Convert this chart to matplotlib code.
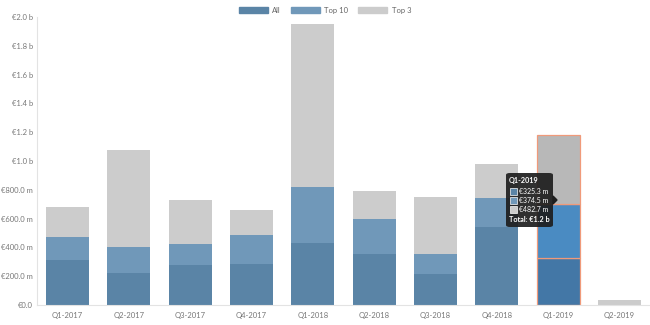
import matplotlib
matplotlib.use("Agg")
import matplotlib.pyplot as plt
from matplotlib.patches import FancyBboxPatch, Rectangle
from matplotlib.ticker import FuncFormatter
import numpy as np

plt.rcParams['font.family'] = ['Lato', 'DejaVu Sans']

quarters = ["Q1-2017", "Q2-2017", "Q3-2017", "Q4-2017", "Q1-2018",
            "Q2-2018", "Q3-2018", "Q4-2018", "Q1-2019", "Q2-2019"]
# values in millions of euro
all_vals = [315, 222, 278, 285, 430, 354, 215, 542, 325.3, 0]
top10_vals = [160, 181, 146, 201, 389, 243, 139, 201, 374.5, 0]
top3_vals = [205, 673, 305, 174, 1132, 195, 396, 236, 482.7, 35]
highlight = 8

c_all, c_top10, c_top3 = "#5a84a6", "#7098b9", "#cccccc"
h_all, h_top10, h_top3 = "#4377a6", "#4a8bc2", "#b8b8b8"
h_edge = "#f09a7a"


def fmt(v, pos=None):
    if v == 0:
        return "€0.0"
    if v >= 1000:
        return "€%.1f b" % (v / 1000)
    return "€%.1f m" % v


fig = plt.figure(figsize=(6.5, 3.25), dpi=100)
ax = fig.add_axes([37 / 650, 20 / 325, 1 - 37 / 650, 288 / 325])

x = np.arange(len(quarters))
a = np.array(all_vals)
t10 = np.array(top10_vals)
t3 = np.array(top3_vals)
w = 0.7

cols_all = [h_all if i == highlight else c_all for i in x]
cols_t10 = [h_top10 if i == highlight else c_top10 for i in x]
cols_t3 = [h_top3 if i == highlight else c_top3 for i in x]
edges = [h_edge if i == highlight else "none" for i in x]

ax.bar(x, a, w, color=cols_all, edgecolor=edges, linewidth=0.9, label="All")
ax.bar(x, t10, w, bottom=a, color=cols_t10, edgecolor=edges, linewidth=0.9, label="Top 10")
ax.bar(x, t3, w, bottom=a + t10, color=cols_t3, edgecolor=edges, linewidth=0.9, label="Top 3")

ax.set_xlim(-0.5, len(quarters) - 0.5)
ax.set_ylim(0, 2000)
ax.set_yticks(np.arange(0, 2001, 200))
ax.yaxis.set_major_formatter(FuncFormatter(fmt))
ax.set_xticks(x)
ax.set_xticklabels(quarters)
ax.tick_params(axis="both", labelsize=5.5, colors="#777777", length=0)
ax.tick_params(axis="x", pad=5)
ax.tick_params(axis="y", pad=3)
for s in ["top", "right"]:
    ax.spines[s].set_visible(False)
for s in ["left", "bottom"]:
    ax.spines[s].set_color("#e3e3e3")
    ax.spines[s].set_linewidth(0.8)

leg = fig.legend(handles=[Rectangle((0, 0), 1, 1, color=c) for c in (c_all, c_top10, c_top3)],
                 labels=["All", "Top 10", "Top 3"], loc="upper center",
                 bbox_to_anchor=(0.5, 1.0), ncol=3, frameon=False, fontsize=5.5,
                 handlelength=3.8, handleheight=0.9, columnspacing=1.3, handletextpad=0.6)
for t in leg.get_texts():
    t.set_color("#666666")

# tooltip
tx0, ty0, tw, th = 506 / 650, 1 - 227 / 325, 47 / 650, 54 / 325
box = FancyBboxPatch((tx0, ty0), tw, th, boxstyle="round,pad=0,rounding_size=0.006",
                     transform=fig.transFigure, facecolor="#1e1e1e", alpha=0.92,
                     edgecolor="none", zorder=10)
fig.patches.append(box)
fig.patches.append(plt.Polygon([[553 / 650, 1 - 196 / 325], [557 / 650, 1 - 200 / 325],
                                [553 / 650, 1 - 204 / 325]], closed=True,
                               transform=fig.transFigure, color="#1e1e1e", zorder=10))
fig.text(509 / 650, 1 - 181 / 325, quarters[highlight], color="white", fontsize=5.2,
         fontweight="bold", va="center", zorder=11)
rows = [(all_vals[highlight], c_all), (top10_vals[highlight], c_top10), (top3_vals[highlight], c_top3)]
for k, (v, c) in enumerate(rows):
    yy = 1 - (191.5 + 9 * k) / 325
    fig.patches.append(Rectangle((510 / 650, yy - 3.2 / 325), 6.5 / 650, 6.5 / 325,
                                 transform=fig.transFigure, facecolor=c,
                                 edgecolor="white", linewidth=0.5, zorder=11))
    fig.text(519 / 650, yy, fmt(v), color="white", fontsize=5.0, va="center", zorder=11)
total = all_vals[highlight] + top10_vals[highlight] + top3_vals[highlight]
fig.text(509 / 650, 1 - 219.5 / 325, "Total: " + fmt(round(total, -2)), color="white",
         fontsize=5.2, fontweight="bold", va="center", zorder=11)

fig.savefig("out.png", dpi=100)
